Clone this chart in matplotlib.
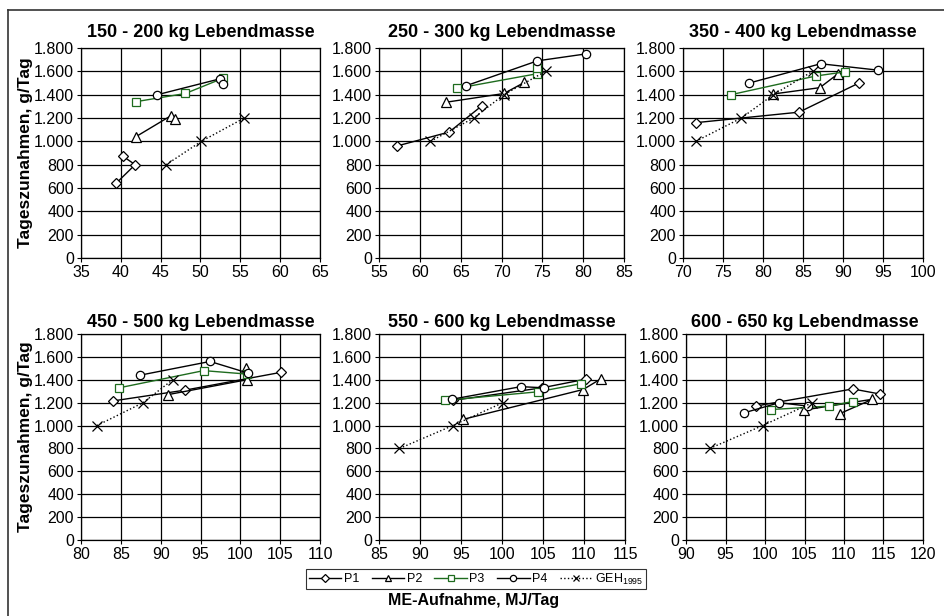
import matplotlib
matplotlib.use("Agg")
import matplotlib.pyplot as plt
from matplotlib.lines import Line2D
from matplotlib.ticker import FuncFormatter, MultipleLocator

plt.rcParams['font.family'] = ['Liberation Sans', 'DejaVu Sans']
plt.rcParams['mathtext.fontset'] = 'custom'
plt.rcParams['mathtext.rm'] = 'Liberation Sans'

# Weight classes (panel titles) and x-axis ranges
titles = ['150 - 200 kg Lebendmasse', '250 - 300 kg Lebendmasse', '350 - 400 kg Lebendmasse',
          '450 - 500 kg Lebendmasse', '550 - 600 kg Lebendmasse', '600 - 650 kg Lebendmasse']
x_ranges = [(35, 65), (55, 85), (70, 100), (80, 110), (85, 115), (90, 120)]

# ME-Aufnahme (MJ/Tag) and Tageszunahmen (g/Tag) per group and weight class
p1_me = [[40.3, 41.8, 39.4], [57.2, 63.6, 67.6], [71.6, 84.5, 92.0],
         [84.0, 93.1, 105.1], [94.0, 104.9, 110.2], [98.8, 111.1, 114.6]]
p1_gain = [[870, 800, 640], [960, 1080, 1305], [1160, 1250, 1500],
           [1215, 1310, 1465], [1220, 1330, 1405], [1170, 1320, 1275]]

p2_me = [[41.9, 46.3, 46.8], [63.2, 70.3, 72.8], [81.2, 87.1, 89.4],
         [90.9, 100.8, 100.7], [95.3, 109.9, 112.1], [104.9, 113.6, 109.5]]
p2_gain = [[1040, 1220, 1190], [1335, 1410, 1505], [1405, 1460, 1580],
           [1270, 1400, 1505], [1055, 1315, 1410], [1135, 1230, 1105]]

p3_me = [[41.9, 48.1, 52.8], [64.6, 74.4, 74.4], [76.0, 86.6, 90.2],
         [84.8, 95.4, 100.8], [93.0, 104.4, 109.6], [100.8, 108.1, 111.1]]
p3_gain = [[1340, 1410, 1540], [1455, 1580, 1630], [1400, 1560, 1595],
           [1330, 1480, 1450], [1220, 1295, 1365], [1140, 1170, 1210]]

p4_me = [[44.6, 52.4, 52.8], [65.6, 74.4, 80.4], [78.3, 87.2, 94.4],
         [87.4, 96.2, 100.9], [93.9, 102.3, 105.1], [97.3, 101.8, 105.4]]
p4_gain = [[1400, 1535, 1490], [1475, 1690, 1750], [1500, 1665, 1610],
           [1440, 1560, 1460], [1230, 1340, 1330], [1110, 1200, 1170]]

geh_me = [[45.7, 50.1, 55.5], [61.3, 66.6, 70.3, 75.4], [71.6, 77.3, 81.3, 86.2],
          [82.0, 87.8, 91.5], [87.5, 94.0, 100.1], [93.0, 99.7, 106.0]]
geh_gain = [[800, 1000, 1200], [1000, 1200, 1400, 1600], [1000, 1200, 1400, 1600],
            [1000, 1200, 1400], [800, 1000, 1200], [800, 1000, 1200]]

green = '#1e6b1e'
series = [
    ('P1', p1_me, p1_gain, dict(color='black', marker='D', markersize=5, ls='-')),
    ('P2', p2_me, p2_gain, dict(color='black', marker='^', markersize=6.5, ls='-')),
    ('P3', p3_me, p3_gain, dict(color=green, marker='s', markersize=6, ls='-')),
    ('P4', p4_me, p4_gain, dict(color='black', marker='o', markersize=6, ls='-')),
    ('GEH$_{1995}$', geh_me, geh_gain, dict(color='black', marker='x', markersize=6.5, ls=':')),
]

# axes boxes in pixels: left, right, top, bottom
boxes = [(81, 320, 48, 258), (379, 624, 48, 258), (683, 923, 48, 258),
         (81, 320, 334, 540), (379, 625, 334, 540), (686, 923, 334, 540)]

W, H = 944, 616
fig = plt.figure(figsize=(W / 100, H / 100), dpi=100)

fmt = FuncFormatter(lambda v, p: f'{int(v):,}'.replace(',', '.'))
handles = []
for i, (l, r, t, b) in enumerate(boxes):
    ax = fig.add_axes([l / W, 1 - b / H, (r - l) / W, (b - t) / H])
    ax.set_xlim(*x_ranges[i])
    ax.set_ylim(0, 1800)
    ax.xaxis.set_major_locator(MultipleLocator(5))
    ax.yaxis.set_major_locator(MultipleLocator(200))
    ax.yaxis.set_major_formatter(fmt)
    ax.grid(True, color='black', lw=0.9)
    ax.set_axisbelow(True)
    ax.tick_params(labelsize=11.5, length=3, width=0.8, pad=2, colors='black')
    for s in ax.spines.values():
        s.set_linewidth(0.9)
    for name, xs, ys, st in series:
        mfc = 'white' if st['marker'] != 'x' else st['color']
        h, = ax.plot(xs[i], ys[i], color=st['color'], ls=st['ls'], lw=1.0,
                     marker=st['marker'], markersize=st['markersize'],
                     mfc=mfc, mec=st['color'], mew=0.9, label=name, zorder=3)
        if i == 0:
            handles.append(h)
    ax.set_title(titles[i], fontsize=13, fontweight='bold', pad=8 if i < 3 else 5)
    if i % 3 == 0:
        ax.set_ylabel('Tageszunahmen, g/Tag', fontsize=12.5, fontweight='bold', labelpad=1)

leg = fig.legend(handles=handles, loc='center', bbox_to_anchor=(476 / W, 1 - 579 / H),
                 ncol=5, frameon=True, fontsize=9, handlelength=2.6, handletextpad=0.2,
                 columnspacing=1.0, borderpad=0.2, fancybox=False, edgecolor='black',
                 markerscale=0.75)
leg.get_frame().set_linewidth(0.8)

fig.text(474 / W, 1 - 601 / H, 'ME-Aufnahme, MJ/Tag', ha='center', va='center',
         fontsize=11.5, fontweight='bold')

# outer frame
fig.add_artist(Line2D([8 / W, 8 / W], [0, 1 - 10 / H], transform=fig.transFigure,
                      color='#333333', lw=1.2))
fig.add_artist(Line2D([8 / W, 1], [1 - 10 / H, 1 - 10 / H], transform=fig.transFigure,
                      color='#333333', lw=1.2))

fig.savefig('out.png', dpi=100)
